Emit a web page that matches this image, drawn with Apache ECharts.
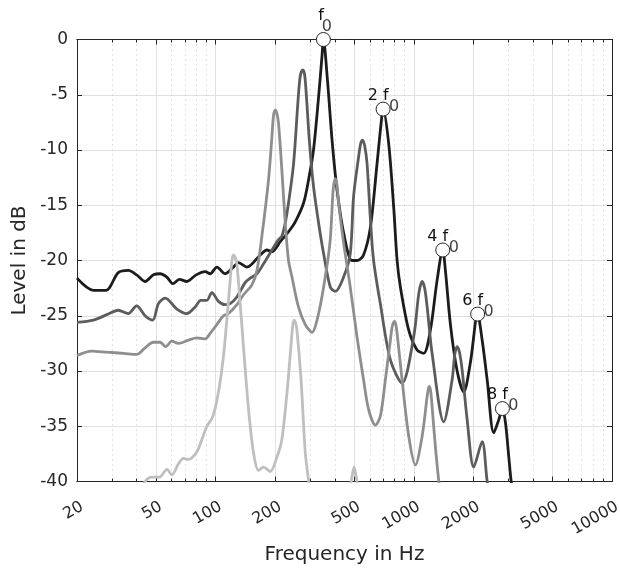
<!DOCTYPE html>
<html>
<head>
<meta charset="utf-8">
<script src="https://cdn.jsdelivr.net/npm/echarts@6/dist/echarts.min.js"></script>
<style>
  html, body { margin: 0; padding: 0; background: #fff; }
  #main { width: 620px; height: 573px; }
</style>
</head>
<body>
<div id="main"></div>
<script>
// spectra (Hz / dB)
const freqA = [20, 24.2, 28, 32.3, 36.3, 40, 44.1, 48.6, 52.5, 56.8, 60.9, 65.7, 71.6, 79.8, 88.6, 93.9, 101.5, 111.8, 123, 130.5, 143.9, 168, 181.6, 192.5, 212, 233.4, 252.4, 278, 294.6, 312, 331, 344, 350, 367, 387, 410, 442.6, 488, 519, 558, 604, 653, 692, 700, 747, 792, 824, 856, 943, 1039, 1122, 1213, 1311, 1400, 1444, 1531, 1655, 1787, 1931, 2100, 2213, 2346, 2532, 2685, 2800, 2902, 3016, 3100, 3200];
const levelA = [-21.6, -22.7, -22.7, -21.1, -20.9, -21.3, -21.9, -21.3, -21.2, -21.5, -22.1, -21.7, -21.9, -21.3, -21.0, -21.2, -20.6, -21.2, -20.6, -20.2, -20.6, -19.5, -19.05, -19.2, -18.3, -17.4, -16.5, -14.8, -12.7, -10, -5.2, -1.6, 0, -3.7, -9.1, -13.6, -17.5, -20, -20, -19.5, -17, -11.2, -6.7, -6.3, -9.4, -15.2, -20, -22.4, -26.3, -28.1, -28.4, -26.3, -21.8, -19.05, -20.9, -25.8, -30, -31.9, -29.2, -24.85, -27.2, -30.8, -35.6, -34.4, -33.4, -34.7, -37.8, -40, -41.5];

const freqB = [20, 24.2, 28.3, 32.3, 36.3, 40, 44.1, 48.2, 51.5, 55.7, 63.8, 71.6, 78.9, 84.3, 90.4, 95.8, 103.4, 111.8, 118.5, 128.1, 141, 149.5, 161.7, 174.6, 192.5, 207.8, 216, 224.7, 233.4, 247.6, 260, 266, 271, 276, 282, 288, 298, 312, 331, 351, 379, 402, 442.6, 478, 497, 527, 540, 552, 565, 581, 604, 627, 678, 762, 873, 999, 1060, 1102, 1135, 1168, 1237, 1416, 1561, 1610, 1655, 1700, 1754, 1859, 2007, 2213, 2346, 2450];
const levelB = [-25.6, -25.4, -24.9, -24.5, -24.8, -24.1, -25.0, -25.4, -23.9, -23.4, -24.4, -24.8, -24.2, -23.6, -23.6, -22.9, -23.7, -24.0, -23.9, -23.3, -22.0, -21.6, -21.2, -20.3, -19.05, -18.1, -17.8, -16.6, -14.8, -11.2, -5.8, -3.6, -2.9, -2.75, -3.3, -5.4, -9.4, -13.3, -16.6, -19.4, -22.4, -22.8, -21.5, -19.4, -14.2, -10.6, -9.4, -9.1, -9.6, -11.2, -16.2, -20, -23.9, -29, -31.1, -26.9, -23.0, -21.9, -22.5, -24.2, -28.4, -34.6, -30.8, -28.5, -27.8, -28.3, -29.9, -34.4, -38.7, -36.4, -40, -42];

const freqC = [20, 23.7, 28.3, 34.3, 40, 44.1, 48.6, 52.5, 56.1, 60.2, 65, 73, 80.5, 88.6, 93.9, 101.5, 109.6, 116.2, 128.1, 138.3, 152.5, 161.7, 171.3, 185, 192.5, 196, 200, 204, 207.8, 216, 224.7, 233.4, 243, 262, 283.6, 306.4, 331, 357.6, 379, 392, 402, 410, 417.6, 442.6, 478, 517, 558, 592, 640, 678, 719, 762, 780, 800, 812, 824, 873, 943, 1019, 1102, 1168, 1185, 1200, 1218, 1237, 1286, 1336, 1380];
const levelC = [-28.6, -28.2, -28.3, -28.4, -28.5, -27.9, -27.4, -27.4, -27.8, -27.3, -27.5, -27.2, -27.0, -27.1, -26.6, -25.8, -25.0, -24.8, -24.0, -23.1, -22.2, -20.9, -17.8, -12.7, -8.8, -6.9, -6.4, -6.7, -7.6, -11.8, -16.6, -20, -21.5, -24.2, -25.8, -26.5, -24.8, -21.5, -18.1, -13.6, -12.6, -13.2, -14.8, -18.4, -22.4, -26.9, -30.8, -33.5, -34.9, -34.1, -30.8, -27.2, -25.9, -25.5, -25.8, -26.6, -30.8, -35.9, -38.5, -35.9, -32.3, -31.6, -31.4, -31.9, -33.2, -36.9, -39.9, -41.5];

const freqD = [42, 44.1, 47.7, 52.1, 56.8, 60.2, 65, 68.9, 73, 80.5, 85.3, 90.4, 95.8, 99.5, 104.6, 109.6, 114, 118.5, 121, 123, 125.5, 128.1, 133.1, 138.3, 146.6, 155.4, 164.7, 174.6, 188.7, 204, 216, 229.2, 240, 245, 249, 253, 257.4, 270, 283.6, 294.6, 305, 400, 474, 490, 500, 510, 526];
const levelD = [-41, -40, -39.6, -39.6, -38.9, -39.4, -38.4, -37.9, -38.0, -37.3, -36.2, -35.0, -34.3, -33.4, -31.4, -28.7, -25.4, -21.8, -20.0, -19.5, -19.7, -20.3, -23.9, -27.8, -33.4, -37.4, -39, -38.7, -39.1, -37.8, -36.2, -32.0, -27.8, -25.9, -25.4, -25.6, -26.3, -30.8, -37.4, -39.9, -42, null, -40.8, -39.4, -38.7, -39.4, -40.8];

// harmonic markers
const markFreq = [350, 700, 1400, 2100, 2800];
const markLevel = [0, -6.3, -19.05, -24.85, -33.4];
const markNum = ['', '2 ', '4 ', '6 ', '8 '];

// axis ticks
const majorTicks = [20, 50, 100, 200, 500, 1000, 2000, 5000, 10000];
const minorTicks = [30, 40, 60, 70, 80, 90, 300, 400, 600, 700, 800, 900, 3000, 4000, 6000, 7000, 8000, 9000];

const ink = '#262626';
const font = '"DejaVu Sans", "Liberation Sans", sans-serif';

function zip(xs, ys) {
  return xs.map((x, i) => [x, ys[i]]);
}

function logAxis(extra) {
  return Object.assign({
    type: 'log', logBase: 10, min: 20, max: 10000,
    axisLine: { show: true, onZero: false, lineStyle: { color: ink, width: 1 } },
    axisTick: { show: false },
    axisLabel: { show: false },
    splitLine: { show: false },
    minorTick: { show: false },
    minorSplitLine: { show: false }
  }, extra);
}

function curve(xs, ys, color, z) {
  return {
    type: 'line',
    data: zip(xs, ys),
    xAxisIndex: 0, yAxisIndex: 0,
    showSymbol: false,
    smooth: 0.3,
    connectNulls: false,
    z: z,
    lineStyle: { color: color, width: 2.8 }
  };
}

const chart = echarts.init(document.getElementById('main'));
chart.setOption({
  animation: false,
  backgroundColor: '#fff',
  grid: { left: 77, right: 8, top: 39.5, bottom: 91.5, containLabel: false, outerBoundsMode: 'none' },
  xAxis: [
    logAxis({
      position: 'bottom',
      name: 'Frequency in Hz', nameLocation: 'middle', nameGap: 63,
      nameTextStyle: { fontFamily: font, fontSize: 20, color: ink },
      axisTick: { show: true, inside: true, length: 5, customValues: majorTicks, lineStyle: { color: ink } },
      axisLabel: {
        show: true, customValues: majorTicks, rotate: 30, margin: 27,
        padding: [0, -6, 0, 0],
        fontFamily: font, fontSize: 16, color: ink,
        formatter: v => String(Math.round(v))
      },
      splitLine: { show: true, lineStyle: { color: '#e0e0e0', width: 1 } }
    }),
    logAxis({
      position: 'top',
      axisTick: { show: true, inside: true, length: 5, customValues: majorTicks, lineStyle: { color: ink } }
    }),
    logAxis({
      position: 'bottom',
      axisTick: { show: true, inside: true, length: 3, customValues: minorTicks, lineStyle: { color: ink } },
      splitLine: { show: true, lineStyle: { color: '#c4c4c4', width: 1, type: [1, 4] } }
    }),
    logAxis({
      position: 'top',
      axisTick: { show: true, inside: true, length: 3, customValues: minorTicks, lineStyle: { color: ink } }
    })
  ],
  yAxis: [
    {
      type: 'value', position: 'left', min: -40, max: 0, interval: 5,
      name: 'Level in dB', nameLocation: 'middle', nameGap: 44, nameRotate: 90,
      nameTextStyle: { fontFamily: font, fontSize: 20, color: ink },
      axisLine: { show: true, lineStyle: { color: ink, width: 1 } },
      axisTick: { show: true, inside: true, length: 5, lineStyle: { color: ink } },
      axisLabel: { fontFamily: font, fontSize: 17, color: ink, margin: 9 },
      splitLine: { show: true, lineStyle: { color: '#e0e0e0', width: 1 } }
    },
    {
      type: 'value', position: 'right', min: -40, max: 0, interval: 5,
      axisLine: { show: true, lineStyle: { color: ink, width: 1 } },
      axisTick: { show: true, inside: true, length: 5, lineStyle: { color: ink } },
      axisLabel: { show: false },
      splitLine: { show: false }
    }
  ],
  series: [
    curve(freqA, levelA, '#1c1c1c', 4),
    curve(freqB, levelB, '#5c5c5c', 5),
    curve(freqC, levelC, '#8e8e8e', 6),
    curve(freqD, levelD, '#bfbfbf', 7),
    {
      // harmonic circles with "n f" text
      type: 'scatter',
      xAxisIndex: 0, yAxisIndex: 0,
      clip: false, z: 10,
      symbol: 'circle', symbolSize: 14,
      itemStyle: { color: '#fff', borderColor: ink, borderWidth: 1, opacity: 1 },
      data: markFreq.map((f, i) => ({
        value: [f, markLevel[i]],
        label: { offset: i === 0 ? [0.5, -23.5] : [5.5, -13.5] }
      })),
      label: {
        show: true, position: 'inside', align: 'right', verticalAlign: 'middle',
        fontFamily: font, fontSize: 16, color: '#111',
        formatter: p => markNum[p.dataIndex] + 'f'
      }
    },
    {
      // subscript "0"
      type: 'scatter',
      xAxisIndex: 0, yAxisIndex: 0,
      clip: false, z: 11,
      symbol: 'circle', symbolSize: 1,
      itemStyle: { color: 'rgba(0,0,0,0)' },
      data: markFreq.map((f, i) => ({
        value: [f, markLevel[i]],
        label: { offset: i === 0 ? [3.5, -12.5] : [11, -2.5] }
      })),
      label: {
        show: true, position: 'inside', align: 'center', verticalAlign: 'middle',
        fontFamily: font, fontSize: 16, color: '#111',
        formatter: '0'
      }
    }
  ]
});
</script>
</body>
</html>
